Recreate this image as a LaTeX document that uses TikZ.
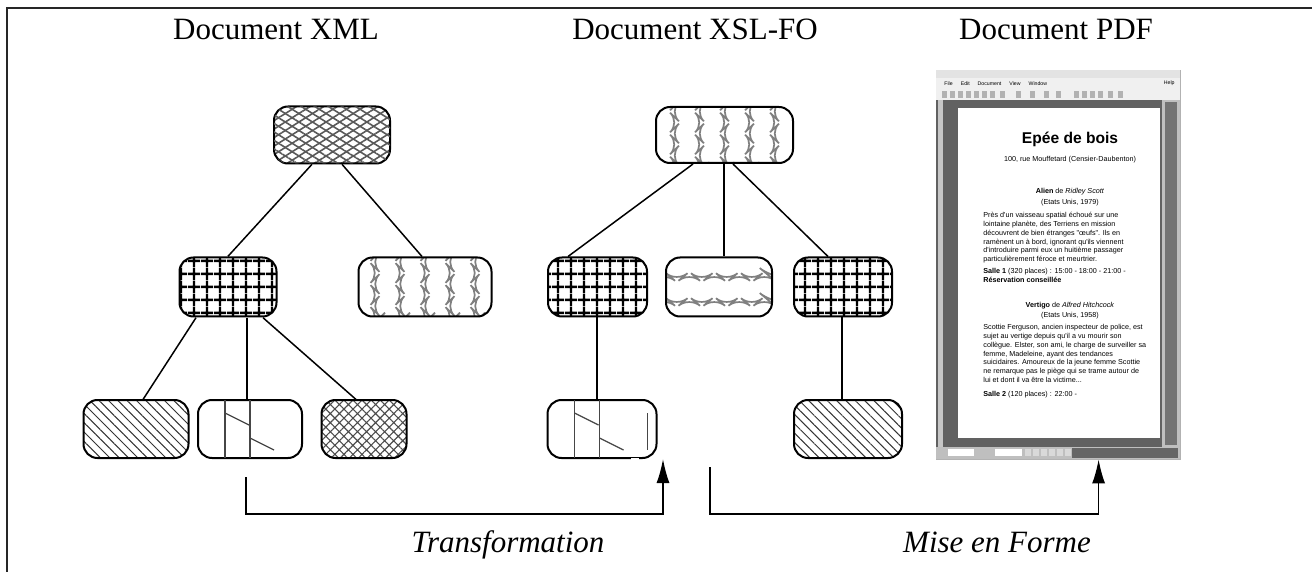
\documentclass[tikz,border=0pt]{standalone}
\usepackage{fontspec}
\setmainfont{Liberation Serif}
\newfontfamily\pdfsans{Liberation Sans}
\usetikzlibrary{patterns.meta,decorations.pathmorphing,arrows.meta,calc}
\begin{document}
\begin{tikzpicture}[x=0.5pt,y=-0.5pt,
  box/.style={draw=black,line width=1pt,rounded corners=7pt,inner sep=0pt,minimum height=29pt},
  conn/.style={draw=black,line width=0.75pt},
  arr/.style={conn,-{Latex[length=12pt,width=6.5pt]}},
  title/.style={font=\fontsize{15.5}{18}\selectfont,anchor=base,inner sep=0pt},
  label/.style={font=\itshape\fontsize{15.5}{18}\selectfont,anchor=base,inner sep=0pt},
  diamonds/.style={pattern={Lines[angle=32,distance=3.6pt,line width=0.8pt]},pattern color=gray!70!black,
     postaction={pattern={Lines[angle=-32,distance=3.6pt,line width=0.8pt]},pattern color=gray!70!black}},
  gridfill/.style={pattern={Hatch[angle=0,distance=6.5pt,line width=1.2pt]},pattern color=black},
  crossfill/.style={pattern={Hatch[angle=45,distance=3.2pt,line width=0.55pt]},pattern color=gray!60!black},
  hatchfill/.style={pattern={Lines[angle=-45,distance=3.3pt,line width=0.5pt]},pattern color=gray!40!black},
  zz/.style={draw=gray,line width=0.85pt,decorate,decoration={zigzag,segment length=11pt,amplitude=2.8pt}},
  zigv/.style={path picture={\foreach \i in {-5,...,5}
      \draw[zz] ([xshift=\i*12.5pt,yshift=6pt]path picture bounding box.north) -- ([xshift=\i*12.5pt,yshift=-6pt]path picture bounding box.south);}},
  zigh/.style={path picture={
      \draw[zz,decoration={zigzag,segment length=12.5pt,amplitude=2.6pt}] ([xshift=-4pt,yshift=5pt]path picture bounding box.west) -- ([xshift=4pt,yshift=5pt]path picture bounding box.east);
      \draw[zz,decoration={zigzag,segment length=12.5pt,amplitude=2.6pt}] ([xshift=-4pt,yshift=-7.5pt]path picture bounding box.west) -- ([xshift=4pt,yshift=-7.5pt]path picture bounding box.east);}},
  txtline/.style={draw=gray!55!black,line width=0.6pt},
  pdftxt/.style={font=\pdfsans\fontsize{3.6}{4.4}\selectfont,inner sep=0pt,align=left},
]
\useasboundingbox (0,0) rectangle (1312,572);
% frame
\draw[gray!30!black,line width=1pt] (7,572) -- (7,8) -- (1312,8);

% titles
\node[title] (t1) at (276,40) {Document XML};
\node[title] (t2) at (695,40) {Document XSL-FO};
\node[title] (t3) at (1056,40) {Document PDF};

% ---- XML tree
\node[box,diamonds,minimum width=58pt,minimum height=28.5pt] (xr) at (332,135) {};
\node[box,gridfill,minimum width=48.5pt,minimum height=29.5pt] (xl) at (228,287) {};
\node[box,zigv,minimum width=66.5pt,minimum height=29.5pt] (xm) at (425,287) {};
\node[box,hatchfill,minimum width=52.5pt] (b1) at (136,429) {};
\node[box,minimum width=52pt] (b2) at (250,429) {};
\node[box,crossfill,minimum width=42.5pt] (b3) at (364,429) {};
\draw[txtline] ($(b2.west)+(28,-29)$) -- ($(b2.west)+(28,29)$);
\draw[txtline] ($(b2.west)+(53,-29)$) -- ($(b2.west)+(53,29)$);
\draw[txtline] ($(b2.west)+(28,-16)$) -- ($(b2.west)+(52,-4)$);
\draw[txtline] ($(b2.west)+(53,9)$) -- ($(b2.west)+(77,21)$);

\draw[conn] ($(xr.south)+(-20,0)$) -- (xl.north);
\draw[conn] ($(xr.south)+(10,0)$) -- ($(xm.north)+(-3,0)$);
\draw[conn] ($(xl.south)+(-32,0)$) -- ($(b1.north)+(7,0)$);
\draw[conn] ($(xl.south)+(19,0)$) -- ($(b2.north)+(-3,0)$);
\draw[conn] ($(xl.south)+(35,0)$) -- ($(b3.north)+(-8,0)$);

% ---- XSL-FO tree
\node[box,zigv,minimum width=68.5pt,minimum height=28pt] (fr) at (724.5,135) {};
\node[box,gridfill,minimum width=49.5pt,minimum height=29.5pt] (fa) at (597.5,287) {};
\node[box,zigh,minimum width=53pt,minimum height=29.5pt] (fb) at (719,287) {};
\node[box,gridfill,minimum width=49pt,minimum height=29.5pt] (fc) at (843,287) {};
\node[box,minimum width=54.5pt] (fd) at (602,429) {};
\node[box,hatchfill,minimum width=54pt] (fe) at (848,429) {};
\draw[txtline] ($(fd.west)+(28,-29)$) -- ($(fd.west)+(28,29)$);
\draw[txtline] ($(fd.west)+(53,-29)$) -- ($(fd.west)+(53,29)$);
\draw[txtline] ($(fd.west)+(101,-16)$) -- ($(fd.west)+(101,21)$);
\draw[txtline] ($(fd.west)+(28,-16)$) -- ($(fd.west)+(52,-4)$);
\draw[txtline] ($(fd.west)+(53,9)$) -- ($(fd.west)+(77,21)$);
\fill[white] ($(fd.south)+(29,-1.5)$) rectangle ($(fd.south)+(37,1.5)$);

\draw[conn] ($(fr.south)+(-31.5,0)$) -- ($(fa.north)+(-29.5,0)$);
\draw[conn] ($(fr.south)+(-0.5,0)$) -- ($(fb.north)+(5,0)$);
\draw[conn] ($(fr.south)+(8.5,0)$) -- ($(fc.north)+(-15,0)$);
\draw[conn] ($(fa.south)+(-0.5,0)$) -- ($(fd.north)+(-5,0)$);
\draw[conn] ($(fc.south)+(-1,0)$) -- ($(fe.north)+(-6,0)$);

% ---- PDF window (936..1180 x 70..459)
\node[fill=gray!40,draw=gray!60,line width=0.4pt,inner sep=0pt,minimum width=122pt,minimum height=194.5pt] (pdf) at (1058,264.5) {};
\fill[gray!22] (936,70) rectangle (1180,78);
\fill[gray!12] (936,78) rectangle (1180,100);
\node[pdftxt,font=\pdfsans\fontsize{2.6}{3}\selectfont,anchor=west] (menu) at (944,83.5) {File\hspace{4pt}Edit\hspace{4pt}Document\hspace{4pt}View\hspace{4pt}Window};
\node[pdftxt,font=\pdfsans\fontsize{2.6}{3}\selectfont,anchor=east] (help) at (1175,83.5) {Help};
\foreach \xx in {942,950,958,966,974,982,990,1000,1016,1030,1044,1056,1074,1082,1090,1098,1108,1118} {
  \fill[gray!60] (\xx,91) rectangle (\xx+5,98);
}
\fill[black!62] (936,100) rectangle (1162,447);
\fill[gray!45] (938,100) rectangle (943,447);
\fill[gray!50] (1162,100) rectangle (1180,447);
\fill[black!55] (1165,102) rectangle (1177,445);
\fill[white] (958,108) rectangle (1160,438);
\fill[gray!50] (936,447) rectangle (1180,459);
\fill[white] (948,449) rectangle (974,456);
\fill[white] (995,449) rectangle (1022,456);
\foreach \xx in {1025,1033,1041,1049,1057,1065} { \fill[gray!30] (\xx,449) rectangle (\xx+6,456); }
\fill[black!60] (1072,448) rectangle (1178,458);

\begin{scope}
\clip (958,108) rectangle (1160,438);
\node[pdftxt,font=\pdfsans\bfseries\fontsize{7.8}{8}\selectfont] (p1) at (1070,139) {Epée de bois};
\node[pdftxt] (p2) at (1070,160) {100, rue Mouffetard (Censier-Daubenton)};
\node[pdftxt] (p3) at (1070,192) {\textbf{Alien} de \textit{Ridley Scott}};
\node[pdftxt] (p4) at (1070,203) {(Etats Unis, 1979)};
\node[pdftxt,anchor=north west] (p5) at (983,212) {Près d'un vaisseau spatial échoué sur une\\lointaine planète, des Terriens en mission\\découvrent de bien étranges "œufs". Ils en\\ramènent un à bord, ignorant qu'ils viennent\\d'introduire parmi eux un huitième passager\\particulièrement féroce et meurtrier.};
\node[pdftxt,anchor=north west] (p6) at (983,268) {\textbf{Salle 1} (320 places) : 15:00 - 18:00 - 21:00 -\\\textbf{Réservation conseillée}};
\node[pdftxt] (p7) at (1070,306) {\textbf{Vertigo} de \textit{Alfred Hitchcock}};
\node[pdftxt] (p8) at (1070,316) {(Etats Unis, 1958)};
\node[pdftxt,anchor=north west] (p9) at (983,324) {Scottie Ferguson, ancien inspecteur de police, est\\sujet au vertige depuis qu'il a vu mourir son\\collègue. Elster, son ami, le charge de surveiller sa\\femme, Madeleine, ayant des tendances\\suicidaires. Amoureux de la jeune femme Scottie\\ne remarque pas le piège qui se trame autour de\\lui et dont il va être la victime...};
\node[pdftxt,anchor=north west] (p10) at (983,391) {\textbf{Salle 2} (120 places) : 22:00 -};
\end{scope}

% ---- bottom connectors
\coordinate (base) at (0,514);
\coordinate (tA) at (246,477);
\coordinate (tB) at (663,459);
\coordinate (mA) at (710,467);
\coordinate (mB) at ($(pdf.south west)+(163,0)$);
\draw[arr] (tA) -- (tA |- base) -| (tB);
\draw[arr] (mA) -- (mA |- base) -| (mB);
\node[label] (l1) at (508,552) {Transformation};
\node[label] (l2) at (997,552) {Mise en Forme};
\end{tikzpicture}
\end{document}
